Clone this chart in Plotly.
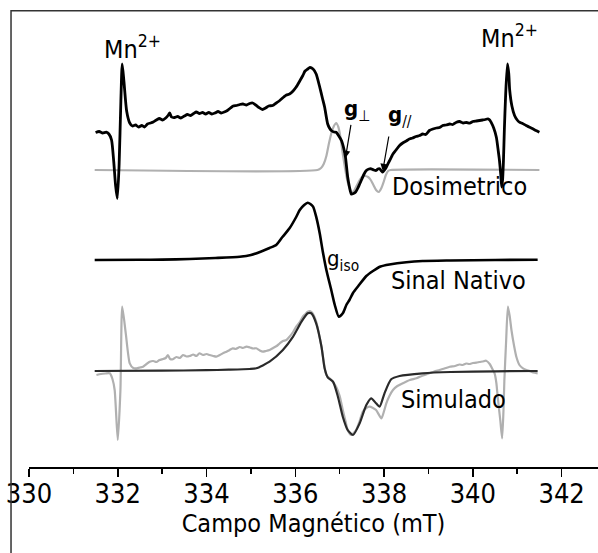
import plotly.graph_objects as go

# ---------------- data (field in mT, intensity in arbitrary units) ----------------
dos_exp_B = [331.50,331.58,331.66,331.74,331.80,331.86,331.91,331.95,331.99,332.03,332.07,332.10,332.14,332.20,332.27,332.33,
             332.40,332.47,332.54,332.60,332.67,332.74,332.80,332.87,332.94,333.01,333.08,333.14,333.17,333.21,333.28,333.35,
             333.42,333.50,333.57,333.64,333.71,333.77,333.84,333.91,333.98,334.05,334.12,334.19,334.26,334.33,334.40,334.47,
             334.54,334.60,334.68,334.75,334.82,334.90,334.97,335.04,335.11,335.18,335.26,335.33,335.40,335.49,335.57,335.65,
             335.74,335.80,335.87,335.95,336.02,336.10,336.17,336.22,336.28,336.33,336.40,336.47,336.55,336.61,336.66,336.73,
             336.77,336.81,336.87,336.92,336.98,337.04,337.09,337.13,337.18,337.22,337.26,337.31,337.36,337.41,337.45,337.50,
             337.55,337.60,337.66,337.71,337.77,337.82,337.86,337.90,337.94,337.97,338.01,338.05,338.12,338.20,338.27,338.35,
             338.42,338.50,338.57,338.64,338.72,338.80,338.87,338.94,339.02,339.10,339.18,339.25,339.32,339.40,339.48,339.55,
             339.63,339.70,339.78,339.86,339.93,340.00,340.08,340.15,340.22,340.28,340.34,340.38,340.41,340.47,340.53,340.57,
             340.60,340.63,340.65,340.67,340.69,340.71,340.74,340.78,340.81,340.83,340.88,340.94,341.00,341.05,341.12,341.20,
             341.27,341.35,341.42,341.50]
dos_exp_I = [37.5,38.5,37.0,37.8,36.0,30.0,8.0,-15,-28.5,5,69,106,88,59,47,44,
             45,43,44.5,43,46,47,48,50,51.5,50,52,55,57,53,52.5,53.5,
             52,54,55.5,54.5,56.5,58,56.5,57.5,56,57.5,56,57,58.5,57,58,59.5,
             62,64,64.5,65.5,66,65,66.5,67,65,62.5,60.5,62,64,64.5,67,69.5,
             73,75,76,79,83,89,94.5,99,101,102.5,101,96,83,72,63,46,
             42,39.5,38,37.8,34,29.5,22,13,-7,-17,-24,-23.5,-22,-18,-14,-9,
             -4,-0.5,1,1.2,0,-0.5,1,1.2,-1,-2.2,0,2.8,9,16,20,24.5,
             27,29,31,32,33.5,34.5,36,35.5,39.5,41,42,42.5,44.5,45,46,45.5,
             47.8,48.5,47,47.5,46.8,48.5,49,49.5,50,50.5,51.2,50,47.8,42,32.8,20,
             9.5,-5,-17,-10,9.5,40,76,106,96,80,64,54.5,50,47.8,46.5,44.5,
             43,41.2,39.5,37.8]

dos_sim_B = [331.48,336.50,336.58,336.64,336.70,336.76,336.82,336.87,336.92,336.97,337.02,337.07,337.12,337.17,337.22,337.27,
             337.32,337.38,337.45,337.52,337.58,337.64,337.70,337.76,337.82,337.88,337.94,337.99,338.04,338.09,338.15,341.50]
dos_sim_I = [0,0,2,6,14,27,38,44,47,43,32,16,2,-10,-18,-22,
             -21,-16,-10,-6.5,-6,-7,-10,-15,-20,-22,-18,-12,-5,-1,0,0]

nat_B = [331.48,332.50,333.00,333.62,334.20,334.75,335.00,335.26,335.42,335.57,335.71,335.87,336.02,336.10,336.20,336.28,
         336.34,336.40,336.47,336.55,336.62,336.70,336.81,336.89,336.98,337.07,337.15,337.22,337.30,337.42,337.60,337.75,
         337.92,338.12,338.50,338.87,339.50,340.50,341.46]
nat_I = [0,0.2,0.4,1,2,3.3,5,9,12,15,23,31.7,43,50,55,57.3,
         56,53.3,43.3,26.7,8.3,-10,-30,-45,-56.7,-53.3,-45,-40,-33,-26,-16,-11,
         -6.5,-4.5,-2.2,-1,-0.5,0,0.3]

sim_B = [331.48,333.00,334.00,334.50,334.97,335.12,335.42,335.72,335.95,336.14,336.28,336.36,336.47,336.59,336.66,336.73,
         336.85,336.96,337.07,337.18,337.30,337.45,337.60,337.71,337.82,337.90,338.01,338.16,338.35,338.87,339.50,340.50,341.46]
sim_I = [0,0.3,0.8,1.3,2,2.7,9.3,21,34.3,49.3,57.7,57.7,47.7,24.3,2.7,-6.3,
         -10.7,-25.7,-45.7,-59,-64,-52.3,-34,-27.3,-32.3,-35.7,-22.3,-8.3,-5,-2.3,-1,-0.3,0]

exp_B = [331.52,331.62,331.72,331.82,331.88,331.93,332.00,332.06,332.10,332.18,332.27,332.35,332.42,332.50,332.57,332.65,
         332.72,332.80,332.87,332.94,333.02,333.08,333.13,333.18,333.24,333.32,333.40,333.47,333.55,333.62,333.70,333.77,
         333.84,333.92,334.00,334.07,334.15,334.22,334.30,334.38,334.45,334.52,334.59,334.66,334.75,334.82,334.90,334.98,
         335.05,335.12,335.20,335.27,335.34,335.42,335.50,335.58,335.65,335.72,335.80,335.87,335.95,336.02,336.10,336.17,
         336.23,336.28,336.33,336.38,336.47,336.59,336.70,336.81,336.92,337.00,337.07,337.13,337.18,337.26,337.37,337.45,
         337.52,337.60,337.67,337.75,337.82,337.94,338.00,338.05,338.12,338.20,338.30,338.42,338.58,338.73,338.88,339.02,
         339.13,339.25,339.36,339.48,339.60,339.70,339.77,339.85,339.92,340.00,340.08,340.15,340.22,340.30,340.38,340.44,
         340.49,340.53,340.56,340.62,340.66,340.69,340.71,340.75,340.79,340.83,340.87,340.93,340.98,341.05,341.13,341.21,
         341.28,341.36,341.46]
exp_I = [-4,-3,-2.5,-2.3,-8,-19,-69,-19,64.3,37.7,7.7,3,2.7,3.5,4.3,7,
         9.3,10,9,11,12,13,16,12,11.7,14,13,16,14.5,15,16.5,15,
         17.7,16,17,16,15,14.3,16,18,19.3,21,22.7,22,24,23,24.3,23.5,
         22.5,22.7,20.5,19.3,20,21,23,25,27.7,30,31,34.3,39,44.3,49,54.3,
         57,59.3,60,58.3,49.3,24.3,-4,-9,-15.7,-25,-39,-50,-59,-64,-59,-50,
         -40.7,-37,-35.7,-37,-39,-47.3,-40,-32.3,-25,-19,-15,-12.3,-9,-7.3,-4.5,-2.3,
         -0.5,1,2.5,4.3,5,6.5,6,7.5,7,8,8.3,9,9.5,10.3,7,2,
         -2.3,-12,-25.7,-50,-67.3,-40,-10,30,64.3,55,41,25,14.3,6,2.7,1,
         0,-1.5,-2.3]

# vertical offsets of the three stacked spectra
off_dos = 297
off_nat = 207
off_sim = 96

tick_vals = [330, 332, 334, 336, 338, 340, 342]

FONT = "DejaVu Sans Condensed, Liberation Sans Narrow, Arial Narrow, sans-serif"

fig = go.Figure()

def add(xs, ys, off, color, width):
    fig.add_trace(go.Scatter(x=xs, y=[v + off for v in ys], mode="lines",
                             line=dict(color=color, width=width, shape="spline", smoothing=0.6),
                             showlegend=False, hoverinfo="skip"))

add(dos_sim_B, dos_sim_I, off_dos, "#b0b0b0", 2.2)
add(dos_exp_B, dos_exp_I, off_dos, "#000000", 2.8)
add(nat_B, nat_I, off_nat, "#000000", 2.6)
add(exp_B, exp_I, off_sim, "#b0b0b0", 2.2)
add(sim_B, sim_I, off_sim, "#2a2a2a", 2.2)

ann = []
def txt(x, y, t, size=25, xanchor="center"):
    ann.append(dict(x=x, y=y, xref="x", yref="y", text=t, showarrow=False,
                    font=dict(family=FONT, size=size, color="black"),
                    xanchor=xanchor, yanchor="middle"))

txt(332.33, 419.5, "Mn<sup>2+</sup>")
txt(340.83, 430.5, "Mn<sup>2+</sup>")
txt(339.69, 280.5, "Dosimetrico")
txt(339.68, 187, "Sinal Nativo")
txt(339.56, 68, "Simulado")
txt(337.40, 357, "<b>g</b><sub>⊥</sub>", size=22)
txt(338.35, 351, "<b>g</b><sub>//</sub>", size=22)
txt(337.08, 207, "g<sub>iso</sub>", size=22)

for (bx, by, ax, ay) in [(337.13, 309, 5.7, -34.7), (337.97, 296, 6.3, -36)]:
    ann.append(dict(x=bx, y=by, xref="x", yref="y", text="", showarrow=True,
                    ax=ax, ay=ay, arrowhead=2, arrowsize=1.2, arrowwidth=1.2,
                    arrowcolor="black", standoff=0))

fig.update_layout(
    width=598, height=553,
    margin=dict(l=29, r=0, t=0, b=86, autoexpand=False),
    paper_bgcolor="white", plot_bgcolor="white",
    annotations=ann,
    xaxis=dict(range=[330, 342.82], showgrid=False, zeroline=False, automargin=False,
               showline=True, linecolor="black", linewidth=1.5,
               tickmode="array", tickvals=tick_vals, ticktext=[str(v) for v in tick_vals],
               ticks="outside", ticklen=8, tickwidth=1.5, tickcolor="black",
               ticklabelstandoff=-6,
               minor=dict(dtick=1, ticks="outside", ticklen=5, tickwidth=1.5, tickcolor="black"),
               tickfont=dict(family=FONT, size=27, color="black"),
               title=dict(text="Campo Magnético (mT)", font=dict(family=FONT, size=25, color="black"),
                          standoff=0)),
    yaxis=dict(range=[0, 467], visible=False, fixedrange=True, automargin=False),
    shapes=[dict(type="path", xref="paper", yref="paper",
                 path="M -0.0316 -0.4 L -0.0316 0.977 L 1.2 0.977",
                 line=dict(color="#333333", width=1.5))],
)

fig.write_html("out.html", config={"displayModeBar": False, "staticPlot": True},
               post_script="document.body.style.margin='0';document.body.style.overflow='hidden';")
